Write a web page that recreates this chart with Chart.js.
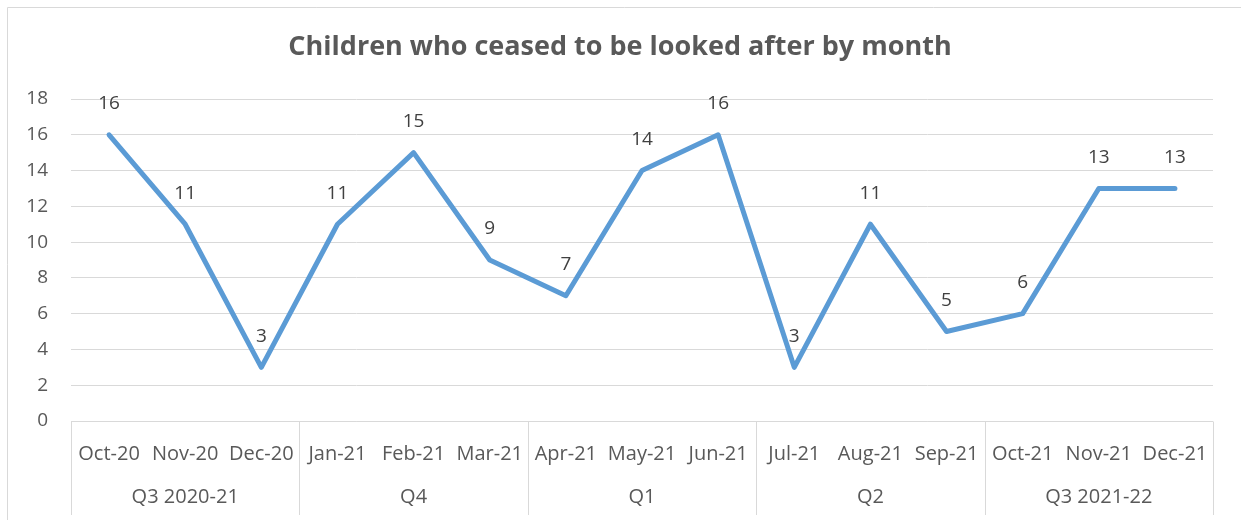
<!DOCTYPE html>
<html>
<head>
<meta charset="utf-8">
<script src="https://cdn.jsdelivr.net/npm/chart.js@4.4.1/dist/chart.umd.min.js"></script>
<style>
  html, body { margin: 0; padding: 0; background: #ffffff; }
  #wrap { width: 1241px; height: 520px; position: relative; }
</style>
</head>
<body>
<div id="wrap"><canvas id="c" width="1241" height="520"></canvas></div>
<script>
const chartTitle = 'Children who ceased to be looked after by month';
const months = ["Oct-20","Nov-20","Dec-20","Jan-21","Feb-21","Mar-21","Apr-21","May-21","Jun-21","Jul-21","Aug-21","Sep-21","Oct-21","Nov-21","Dec-21"];
const ceased = [16,11,3,11,15,9,7,14,16,3,11,5,6,13,13];
const groupLabels = ["Q3 2020-21","Q4","Q1","Q2","Q3 2021-22"];
const groupSizes = [3,3,3,3,3];
const yTicks = [0,2,4,6,8,10,12,14,16,18];

const FONT = "'Open Sans', 'Noto Sans', sans-serif";
const TEXT = "#595959";
const GRID = "#d9d9d9";

const groupPlugin = {
  id: 'groupAxis',
  afterDraw(chart) {
    const ctx = chart.ctx;
    const x = chart.scales.x;
    const area = chart.chartArea;
    ctx.save();
    ctx.strokeStyle = GRID;
    ctx.lineWidth = 1;
    ctx.beginPath();
    ctx.moveTo(7.5, 600); ctx.lineTo(7.5, 7.5); ctx.lineTo(1300, 7.5);
    ctx.stroke();
    // title
    ctx.fillStyle = TEXT;
    ctx.font = "bold 27px " + FONT;
    ctx.textAlign = 'center';
    ctx.textBaseline = 'middle';
    ctx.fillText(chartTitle, 620, 47);
    // category box
    const top = Math.round(area.bottom) + 0.5;
    const bottom = 515;
    ctx.beginPath();
    ctx.moveTo(area.left, top); ctx.lineTo(area.right, top);
    ctx.stroke();
    let idx = 0;
    const edges = [area.left];
    groupSizes.forEach((n) => {
      idx += n;
      if (idx < months.length) {
        edges.push((x.getPixelForValue(idx - 1) + x.getPixelForValue(idx)) / 2);
      } else {
        edges.push(area.right);
      }
    });
    edges.forEach(e => {
      const ex = Math.round(e) + 0.5;
      ctx.beginPath(); ctx.moveTo(ex, top); ctx.lineTo(ex, bottom); ctx.stroke();
    });
    ctx.font = "20px " + FONT;
    groupLabels.forEach((lab, g) => {
      ctx.fillText(lab, (edges[g] + edges[g + 1]) / 2, 497);
    });
    const meta = chart.getDatasetMeta(0);
    ctx.fillStyle = "#404040";
    ctx.font = "19px " + FONT;
    meta.data.forEach((pt, i) => {
      ctx.fillText(String(ceased[i]), pt.x, pt.y - 31);
    });
    ctx.restore();
  }
};

new Chart(document.getElementById('c'), {
  type: 'line',
  data: {
    labels: months,
    datasets: [{
      data: ceased,
      borderColor: '#5B9BD5',
      borderWidth: 5,
      borderJoinStyle: 'round',
      borderCapStyle: 'round',
      pointRadius: 0,
      pointHoverRadius: 0,
      tension: 0,
      fill: false
    }]
  },
  options: {
    responsive: false,
    animation: false,
    events: [],
    layout: { padding: { left: 7, right: 28, top: 99, bottom: 0 } },
    plugins: {
      legend: { display: false },
      tooltip: { enabled: false },
      title: { display: false }
    },
    scales: {
      x: {
        offset: true,
        grid: { display: false, drawTicks: false },
        border: { display: false },
        ticks: {
          color: TEXT,
          font: { family: FONT, size: 20 },
          padding: 21,
          maxRotation: 0,
          autoSkip: false
        },
        afterFit(scale) { scale.height = 99; }
      },
      y: {
        min: 0,
        max: 18,
        afterBuildTicks(scale) { scale.ticks = yTicks.map(v => ({ value: v })); },
        grid: { color: GRID, lineWidth: 1, drawTicks: false },
        border: { display: false },
        ticks: {
          color: TEXT,
          font: { family: FONT, size: 19 },
          padding: 23
        },
        afterFit(scale) { scale.width = 64; }
      }
    }
  },
  plugins: [groupPlugin]
});
</script>
</body>
</html>
